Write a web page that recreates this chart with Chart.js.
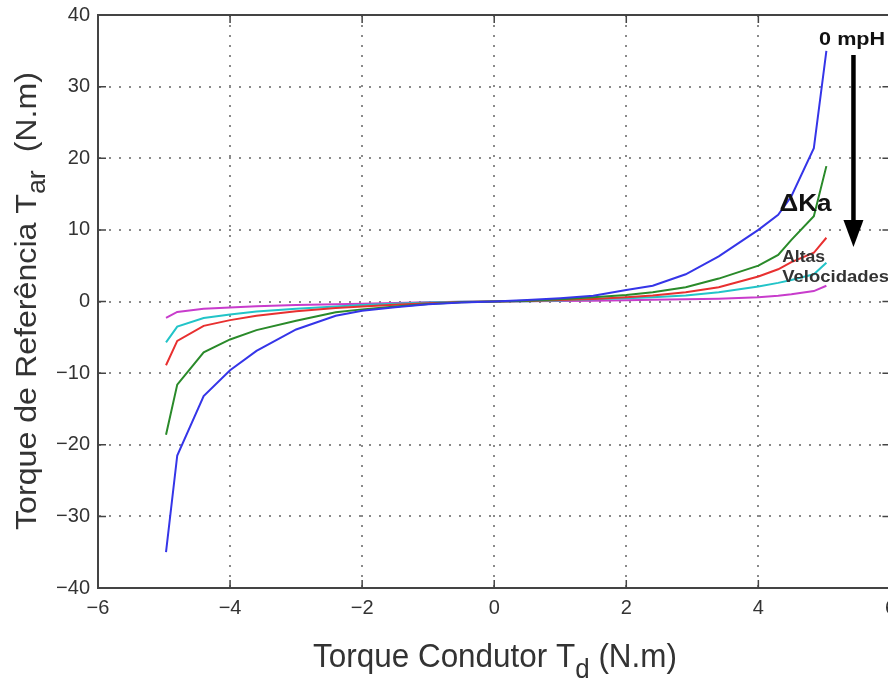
<!DOCTYPE html>
<html>
<head>
<meta charset="utf-8">
<script src="https://cdn.jsdelivr.net/npm/chart.js@4"></script>
<style>
html,body{margin:0;padding:0;background:#fff;overflow:hidden;}
#wrap{position:absolute;left:0;top:0;width:904px;height:679px;}
</style>
</head>
<body>
<div id="wrap"><canvas id="c"></canvas></div>
<script>
// Data
const torqueX = [-4.97, -4.8, -4.4, -4, -3.6, -3, -2.4, -2, -1.5, -1, -0.5, 0, 0.5, 1, 1.5, 2, 2.4, 2.9, 3.4, 4, 4.3, 4.5, 4.84, 5.03];
const speed0 = [-35, -21.5, -13.2, -9.6, -6.9, -3.9, -2.0, -1.3, -0.8, -0.4, -0.15, 0, 0.2, 0.45, 0.8, 1.6, 2.2, 3.8, 6.3, 10.0, 12.1, 14.7, 21.4, 35];
const speed1 = [-18.6, -11.6, -7.1, -5.3, -4.0, -2.7, -1.5, -1.1, -0.7, -0.35, -0.1, 0, 0.1, 0.3, 0.6, 0.9, 1.3, 2.0, 3.2, 5.0, 6.5, 8.6, 11.9, 18.9];
const speed2 = [-8.9, -5.5, -3.4, -2.6, -2.0, -1.35, -0.9, -0.7, -0.45, -0.25, -0.08, 0, 0.08, 0.2, 0.35, 0.6, 0.85, 1.3, 2.0, 3.5, 4.5, 5.5, 6.8, 8.9];
const speed3 = [-5.7, -3.5, -2.3, -1.8, -1.4, -1.0, -0.7, -0.5, -0.3, -0.15, -0.05, 0, 0.05, 0.15, 0.3, 0.45, 0.6, 0.85, 1.3, 2.1, 2.6, 3.0, 3.8, 5.4];
const speed4 = [-2.3, -1.45, -1.0, -0.85, -0.65, -0.5, -0.38, -0.3, -0.2, -0.1, -0.03, 0, 0.03, 0.08, 0.12, 0.18, 0.25, 0.3, 0.4, 0.6, 0.8, 1.0, 1.45, 2.2];
const seriesColors = ['#3535e8', '#2a8a2a', '#e83030', '#22c4c8', '#c83ccc'];
const xTicks = [-6, -4, -2, 0, 2, 4, 6];
const yTicks = [-40, -30, -20, -10, 0, 10, 20, 30, 40];

const allSeries = [speed0, speed1, speed2, speed3, speed4];
const datasets = allSeries.map((s, i) => ({
  data: torqueX.map((x, j) => ({x: x, y: s[j]})),
  borderColor: seriesColors[i],
  borderWidth: 2,
  pointRadius: 0,
  showLine: true,
  tension: 0,
  fill: false
}));

const fmt = v => (v < 0 ? '\u2212' + Math.abs(v) : String(v));
const FONT = '"Liberation Sans", Arial, Helvetica, sans-serif';

// draw text stretched along its reading direction to a target width
function stretchText(ctx, parts, x0, y0, targetW, rot) {
  let total = 0;
  const widths = parts.map(p => { ctx.font = p.font; const w = ctx.measureText(p.t).width; total += w; return w; });
  const k = targetW / total;
  ctx.save();
  ctx.translate(x0, y0);
  if (rot) ctx.rotate(rot);
  ctx.scale(k, 1);
  let cx = 0;
  parts.forEach((p, i) => {
    ctx.font = p.font;
    ctx.fillText(p.t, cx, p.dy || 0);
    cx += widths[i];
  });
  ctx.restore();
}

const decor = {
  id: 'decor',
  afterDraw(chart) {
    const {ctx, chartArea: a, scales: {x, y}} = chart;
    ctx.save();
    // top and right frame
    ctx.strokeStyle = '#444';
    ctx.lineWidth = 2;
    ctx.beginPath();
    ctx.moveTo(a.left, a.top); ctx.lineTo(a.right, a.top); ctx.lineTo(a.right, a.bottom);
    ctx.stroke();
    // inward ticks
    ctx.lineWidth = 1.5;
    ctx.beginPath();
    xTicks.forEach(v => {
      if (v === -6 || v === 6) return;
      const px = x.getPixelForValue(v);
      ctx.moveTo(px, a.bottom); ctx.lineTo(px, a.bottom - 8);
      ctx.moveTo(px, a.top); ctx.lineTo(px, a.top + 8);
    });
    yTicks.forEach(v => {
      if (v === -40 || v === 40) return;
      const py = y.getPixelForValue(v);
      ctx.moveTo(a.left, py); ctx.lineTo(a.left + 8, py);
      ctx.moveTo(a.right, py); ctx.lineTo(a.right - 8, py);
    });
    ctx.stroke();

    // axis titles with subscripts
    ctx.fillStyle = '#333';
    ctx.textBaseline = 'alphabetic';
    ctx.textAlign = 'left';
    stretchText(ctx, [
      {t: 'Torque Condutor T', font: '34px ' + FONT},
      {t: 'd', font: '28px ' + FONT, dy: 11},
      {t: ' (N.m)', font: '34px ' + FONT}
    ], 313, 667, 364, 0);
    stretchText(ctx, [
      {t: 'Torque de Refer\u00eancia T', font: '30px ' + FONT},
      {t: 'ar', font: '25px ' + FONT, dy: 9},
      {t: '  (N.m)', font: '30px ' + FONT}
    ], 36, 530, 458, -Math.PI / 2);

    // annotations
    ctx.fillStyle = '#111';
    ctx.textBaseline = 'middle';
    stretchText(ctx, [{t: '0 mpH', font: 'bold 18px ' + FONT}], x.getPixelForValue(4.92), y.getPixelForValue(36.5), 66, 0);
    stretchText(ctx, [{t: '\u0394Ka', font: 'bold 24px ' + FONT}], x.getPixelForValue(4.32), y.getPixelForValue(13.6), 52, 0);
    ctx.fillStyle = '#333';
    stretchText(ctx, [{t: 'Altas', font: 'bold 17px ' + FONT}], x.getPixelForValue(4.36), y.getPixelForValue(6.1), 43, 0);
    stretchText(ctx, [{t: 'Velocidades', font: 'bold 17px ' + FONT}], x.getPixelForValue(4.36), y.getPixelForValue(3.35), 107, 0);

    // arrow
    const ax = x.getPixelForValue(5.44);
    const ay1 = y.getPixelForValue(34.4), ay2 = y.getPixelForValue(7.6);
    ctx.strokeStyle = '#000';
    ctx.fillStyle = '#000';
    ctx.lineWidth = 4.5;
    ctx.beginPath();
    ctx.moveTo(ax, ay1); ctx.lineTo(ax, ay2 - 20);
    ctx.stroke();
    ctx.beginPath();
    ctx.moveTo(ax - 10, ay2 - 27);
    ctx.lineTo(ax + 10, ay2 - 27);
    ctx.lineTo(ax, ay2);
    ctx.closePath();
    ctx.fill();
    ctx.restore();
  }
};

const gridColor = (edgeVals) => (c) => (c.tick && edgeVals.includes(c.tick.value)) ? 'rgba(0,0,0,0)' : '#8a8a8a';

new Chart(document.getElementById('c'), {
  type: 'scatter',
  data: {datasets},
  plugins: [decor],
  options: {
    responsive: true,
    maintainAspectRatio: false,
    devicePixelRatio: 1,
    animation: false,
    layout: {padding: {left: 0, right: 10, top: 15, bottom: 0}},
    plugins: {legend: {display: false}, tooltip: {enabled: false}},
    scales: {
      x: {
        type: 'linear', min: -6, max: 6,
        afterBuildTicks: s => { s.ticks = xTicks.map(v => ({value: v})); },
        afterFit: s => { s.height = 91; },
        ticks: {callback: fmt, color: '#333', font: {size: 20, family: FONT}, padding: 8, maxRotation: 0},
        grid: {color: gridColor([-6, 6]), lineWidth: 2, drawTicks: false},
        border: {display: true, color: '#444', width: 2, dash: [2, 8]}
      },
      y: {
        type: 'linear', min: -40, max: 40,
        afterBuildTicks: s => { s.ticks = yTicks.map(v => ({value: v})); },
        afterFit: s => { s.width = 98; s.paddingTop = 0; s.paddingBottom = 0; },
        ticks: {callback: fmt, color: '#333', font: {size: 20, family: FONT}, padding: 8},
        grid: {color: gridColor([-40, 40]), lineWidth: 2, drawTicks: false},
        border: {display: true, color: '#444', width: 2, dash: [2, 8]}
      }
    }
  }
});
</script>
</body>
</html>
